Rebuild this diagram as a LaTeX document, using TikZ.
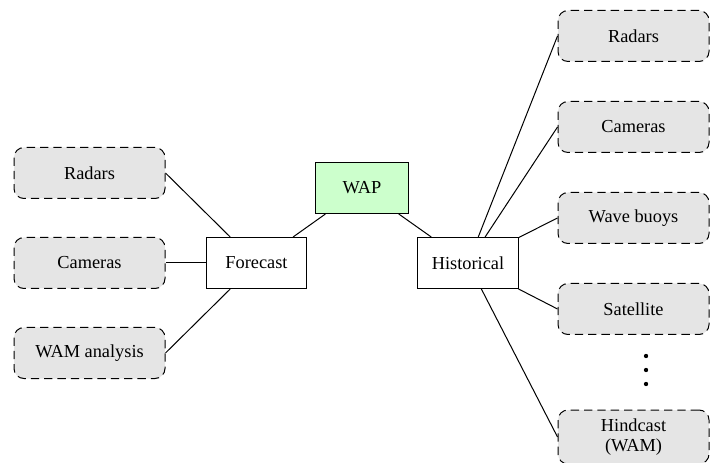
\documentclass[tikz,border=0pt]{standalone}
\usepackage{fontspec}
\setmainfont{Liberation Serif}
\begin{document}
\begin{tikzpicture}[x=0.6pt,y=-0.6pt,
  every node/.style={font=\fontsize{11}{12}\selectfont},
  source/.style={draw, dash pattern=on 5pt off 3pt, rounded corners=6pt,
    fill=black!10, line width=0.6pt, minimum width=90.6pt, minimum height=30.6pt,
    align=center, inner sep=2pt},
  stage/.style={draw, fill=white, line width=0.6pt, minimum height=30.6pt},
  root/.style={draw, fill=green!20, line width=0.6pt, minimum width=55.8pt, minimum height=30.6pt},
  link/.style={line width=0.6pt},
  dotmark/.style={circle, fill=black, inner sep=0pt, minimum size=2.6pt}]
\useasboundingbox (0,0) rectangle (718,463);
\clip (0,0) rectangle (718,463);

% top-level node and the two branches
\node[root] (wap) at (362,188) {WAP};
\node[stage, minimum width=60pt] (fc) at (256.5,263) {Forecast};
\node[stage, minimum width=60.6pt] (hist) at (468,263) {Historical};

% forecast sources
\node[source] (fradar) at (89.5,173) {Radars};
\node[source] (fcam) at (89.5,263) {Cameras};
\node[source] (fwam) at (89.5,353) {WAM analysis};

% historical sources
\node[source] (hradar) at (633.5,36) {Radars};
\node[source] (hcam) at (633.5,127) {Cameras};
\node[source] (hbuoy) at (633.5,218) {Wave buoys};
\node[source] (hsat) at (633.5,309) {Satellite};
\node[source, minimum height=32.4pt] (hhind) at (633.5,437) {Hindcast\\(WAM)};

% ellipsis between satellite and hindcast
\node[dotmark] (d1) at (646,356) {};
\node[dotmark] (d2) at (646,370) {};
\node[dotmark] (d3) at (646,384) {};

% connectors
\draw[link] (wap) -- (fc);
\draw[link] (wap) -- (hist);
\draw[link] (fradar.east) -- (fc);
\draw[link] (fcam.east) -- (fc);
\draw[link] (fwam.east) -- (fc);
\draw[link] (hist) -- (hradar.west);
\draw[link] (hist) -- (hcam.west);
\draw[link] (hist) -- (hbuoy.west);
\draw[link] (hist) -- (hsat.west);
\draw[link] (hist) -- (hhind.west);
\end{tikzpicture}
\end{document}
